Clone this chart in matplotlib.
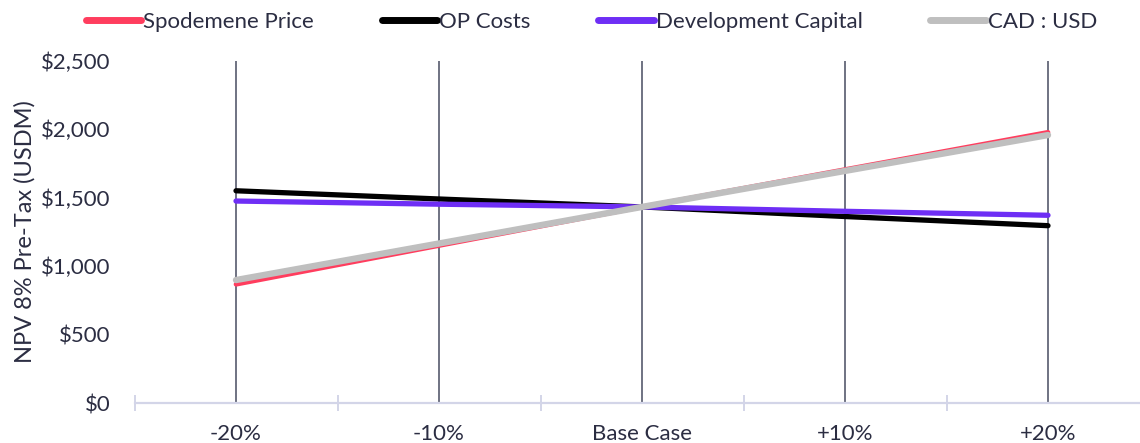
import matplotlib
matplotlib.use("Agg")
import matplotlib.pyplot as plt
from matplotlib.ticker import FuncFormatter, FixedLocator

plt.rcParams['font.family'] = ['Lato', 'DejaVu Sans']

categories = ["-20%", "-10%", "Base Case", "+10%", "+20%"]
spodumene_price = [867, 1150, 1432, 1705, 1977]
op_costs = [1550, 1490, 1432, 1362, 1295]
development_capital = [1475, 1452, 1432, 1400, 1371]
cad_usd = [898, 1165, 1432, 1695, 1957]

TEXT = "#2b2d42"

fig = plt.figure(figsize=(11.40, 4.43), dpi=100)
ax = fig.add_axes([134.5 / 1140, 1 - 403 / 443, (1149.5 - 134.5) / 1140, (403 - 60.7) / 443])

x = list(range(len(categories)))
series = [
    ("Spodemene Price", spodumene_price, "#ff3d5e", 3.4),
    ("OP Costs", op_costs, "#000000", 3.8),
    ("Development Capital", development_capital, "#6e2ef5", 3.8),
    ("CAD : USD", cad_usd, "#bfbfbf", 4.6),
]
for i, (name, vals, color, lw) in enumerate(series):
    ax.plot(x, vals, color=color, lw=lw, solid_capstyle="round", label=name, zorder=3 + i)

ax.set_xlim(-0.5, len(categories) - 0.5)
ax.set_ylim(0, 2500)
ax.set_yticks(range(0, 2501, 500))
ax.yaxis.set_major_formatter(FuncFormatter(lambda v, p: f"${v:,.0f}"))
ax.set_xticks(x)
ax.set_xticklabels(categories)
ax.xaxis.set_minor_locator(FixedLocator([i - 0.5 for i in range(len(categories) + 1)]))

# vertical category gridlines
ax.grid(axis="x", which="major", color="#6f7282", lw=1.4, zorder=1)
ax.grid(axis="y", visible=False)

for s in ("top", "right", "left"):
    ax.spines[s].set_visible(False)
ax.spines["bottom"].set_color("#d3d5e8")
ax.spines["bottom"].set_linewidth(1.6)

ax.tick_params(axis="y", length=0, pad=17, labelsize=16, labelcolor=TEXT)
ax.tick_params(axis="x", which="major", length=0, pad=15, labelsize=16, labelcolor=TEXT)
ax.tick_params(axis="x", which="minor", direction="inout", length=11, width=1.4, color="#d3d5e8")

ax.set_ylabel("NPV 8% Pre-Tax (USDM)", fontsize=17, color=TEXT, labelpad=4)

leg = fig.legend(loc="center", bbox_to_anchor=(0.519, 1 - 22 / 443), ncol=4, frameon=False,
                 fontsize=16, handlelength=2.48, handletextpad=0.1, columnspacing=3.05,
                 labelcolor=TEXT)
for h in leg.get_lines():
    h.set_linewidth(5)
    h.set_solid_capstyle("round")

fig.savefig("out.png", dpi=100)
